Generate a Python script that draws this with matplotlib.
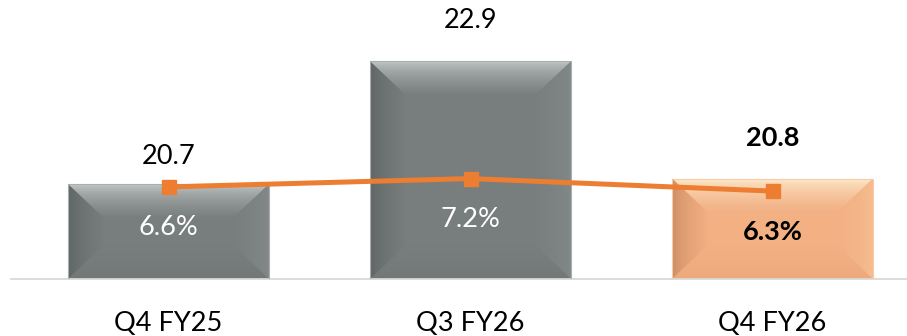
import numpy as np
import matplotlib
matplotlib.use("Agg")
import matplotlib.pyplot as plt
from matplotlib.patches import Polygon
from matplotlib.colors import LinearSegmentedColormap

plt.rcParams['font.family'] = ['Lato', 'DejaVu Sans']

# ---- data -------------------------------------------------------------
quarters = ['Q4 FY25', 'Q3 FY26', 'Q4 FY26']
revenue = [20.7, 22.9, 20.8]          # bar values
margin_pct = [6.6, 7.2, 6.3]          # line values (%)
highlight = [False, False, True]      # emphasised quarter

# ---- styling ----------------------------------------------------------
W, H = 907, 336
AX_LEFT_PX, AX_BOTTOM_PX = 11, 279
XLIM = (-0.5215, 2.445)
YLIM = (19, 24)
Y2LIM = (0, 20)
BAR_WIDTH = 0.666
BEVEL_X_PX, BEVEL_Y_PX = 35, 33
LINE_COLOR = '#ED7D31'
FS = 19.5

# facet colours: (outer edge, inner edge)
GRAY = dict(center='#787E7D', top=('#CBD0D0', '#7A807F'),
            left=('#5C6261', '#777D7C'), right=('#848A89', '#797F7E'),
            bottom=('#717776', '#787E7D'), edge='#A9AFAE')
ORANGE = dict(center='#F2B083', top=('#FFF0D2', '#F2B185'),
              left=('#C98962', '#F0AE81'), right=('#F7BE91', '#F2B184'),
              bottom=('#ECA87A', '#F2B083'), edge='#F6CBA8')

fig = plt.figure(figsize=(W / 100, H / 100), dpi=100)
ax = fig.add_axes([AX_LEFT_PX / W, (H - AX_BOTTOM_PX) / H,
                   (W - AX_LEFT_PX) / W, AX_BOTTOM_PX / H])
ax.set_xlim(*XLIM)
ax.set_ylim(*YLIM)

# pixel -> data scale factors
px_x = (XLIM[1] - XLIM[0]) / (W - AX_LEFT_PX)
px_y = (YLIM[1] - YLIM[0]) / AX_BOTTOM_PX


def gradient_poly(verts, extent, outer, inner, direction, outer_first):
    """Fill a bevel facet with a gradient that moves quickly away from the
    outer colour and eases into the inner (face) colour."""
    poly = Polygon(verts, closed=True, facecolor='none', edgecolor='none')
    ax.add_patch(poly)
    t = np.linspace(0, 1, 200)
    s = t ** 0.55 if outer_first else 1 - (1 - t) ** 0.55
    img = s[:, None] if direction == 'v' else s[None, :]
    cols = [outer, inner] if outer_first else [inner, outer]
    cmap = LinearSegmentedColormap.from_list('g', cols)
    im = ax.imshow(img, cmap=cmap, extent=extent, origin='upper',
                   aspect='auto', interpolation='bilinear', zorder=2)
    im.set_clip_path(poly)


palettes = [ORANGE if hl else GRAY for hl in highlight]
bars = ax.bar(range(len(quarters)), [v - YLIM[0] for v in revenue],
              bottom=YLIM[0], width=BAR_WIDTH,
              color=[p['center'] for p in palettes], zorder=1)

for bar, pal in zip(bars, palettes):
    x0, y0 = bar.get_x(), bar.get_y()
    x1, y1 = x0 + bar.get_width(), y0 + bar.get_height()
    bx, by = BEVEL_X_PX * px_x, BEVEL_Y_PX * px_y
    ix0, ix1, iy0, iy1 = x0 + bx, x1 - bx, y0 + by, y1 - by
    # top facet (image row 0 is the top edge)
    gradient_poly([(x0, y1), (x1, y1), (ix1, iy1), (ix0, iy1)],
                  (x0, x1, iy1, y1), *pal['top'], 'v', True)
    # bottom facet
    gradient_poly([(x0, y0), (x1, y0), (ix1, iy0), (ix0, iy0)],
                  (x0, x1, y0, iy0), *pal['bottom'], 'v', False)
    # left facet
    gradient_poly([(x0, y0), (ix0, iy0), (ix0, iy1), (x0, y1)],
                  (x0, ix0, y0, y1), *pal['left'], 'h', True)
    # right facet
    gradient_poly([(x1, y0), (ix1, iy0), (ix1, iy1), (x1, y1)],
                  (ix1, x1, y0, y1), *pal['right'], 'h', False)
    # thin rim
    ax.add_patch(Polygon([(x0, y0), (x1, y0), (x1, y1), (x0, y1)],
                         facecolor='none', edgecolor=pal['edge'], lw=0.8,
                         zorder=3))

# value labels above the bars
value_offsets = [20, 29.5, 29.5]
for i, (v, hl) in enumerate(zip(revenue, highlight)):
    ax.annotate(f'{v:.1f}', (i, v), xytext=(0, value_offsets[i]),
                textcoords='offset points', ha='center', va='center',
                fontsize=FS, color='black',
                fontweight='bold' if hl else 'normal', zorder=6)

ax.set_xlim(*XLIM)
ax.set_ylim(*YLIM)
ax.set_xticks(range(len(quarters)), quarters, fontsize=FS)
ax.tick_params(axis='x', length=0, pad=23)
ax.set_yticks([])
for s in ['left', 'right', 'top']:
    ax.spines[s].set_visible(False)
ax.spines['bottom'].set_color('#D9D9D9')
ax.spines['bottom'].set_linewidth(1.3)

# margin line on a secondary axis
ax2 = ax.twinx()
ax2.set_ylim(*Y2LIM)
ax2.plot(range(len(quarters)), margin_pct, color=LINE_COLOR, lw=3.6,
         marker='s', markersize=10.5, zorder=5)
for i, (p, hl) in enumerate(zip(margin_pct, highlight)):
    ax2.annotate(f'{p:.1f}%', (i, p), xytext=(0, -29.5),
                 textcoords='offset points', ha='center', va='center',
                 fontsize=FS, color='black' if hl else 'white',
                 fontweight='bold' if hl else 'normal')
ax2.set_yticks([])
for s in ax2.spines.values():
    s.set_visible(False)

fig.savefig('out.png', dpi=100)
